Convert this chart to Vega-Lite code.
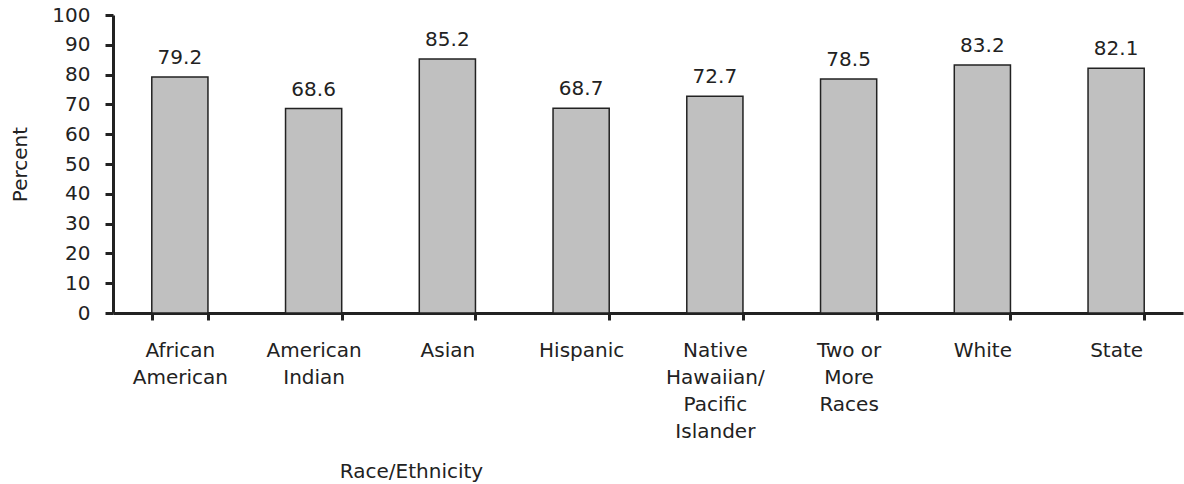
{
  "$schema": "https://vega.github.io/schema/vega-lite/v6.json",
  "width": 1070,
  "height": 298,
  "autosize": {"type": "none"},
  "padding": {"left": 113, "top": 15, "right": 1, "bottom": 171},
  "background": "white",
  "config": {
    "view": {"stroke": null},
    "font": "DejaVu Sans",
    "axis": {"labelFont": "DejaVu Sans", "titleFont": "DejaVu Sans", "labelColor": "#222", "titleColor": "#222", "domainColor": "#222", "tickColor": "#222", "grid": false}
  },
  "data": {
    "values": [
      {"group": "African American", "percent": 79.2},
      {"group": "American Indian", "percent": 68.6},
      {"group": "Asian", "percent": 85.2},
      {"group": "Hispanic", "percent": 68.7},
      {"group": "Native Hawaiian/Pacific Islander", "percent": 72.7},
      {"group": "Two or More Races", "percent": 78.5},
      {"group": "White", "percent": 83.2},
      {"group": "State", "percent": 82.1}
    ]
  },
  "encoding": {
    "x": {
      "field": "group",
      "type": "nominal",
      "sort": null,
      "scale": {"paddingInner": 0.58, "paddingOuter": 0.29},
      "axis": {
        "title": "Race/Ethnicity",
        "titleFontSize": 20,
        "titleFontWeight": "normal",
        "titleX": 298,
        "titleY": 164,
        "titleAlign": "center",
        "titleBaseline": "alphabetic",
        "labelAngle": 0,
        "labelFontSize": 20,
        "labelLineHeight": 27,
        "labelBaseline": "top",
        "labelPadding": 20,
        "labelExpr": "{'African American': ['African', 'American'], 'American Indian': ['American', 'Indian'], 'Asian': 'Asian', 'Hispanic': 'Hispanic', 'Native Hawaiian/Pacific Islander': ['Native', 'Hawaiian/', 'Pacific', 'Islander'], 'Two or More Races': ['Two or', 'More', 'Races'], 'White': 'White', 'State': 'State'}[datum.value]",
        "bandPosition": 0,
        "tickBand": "extent",
        "tickSize": 7,
        "tickWidth": 3,
        "domainWidth": 3,
        "labelOverlap": false,
        "labelBound": false
      }
    },
    "y": {
      "field": "percent",
      "type": "quantitative",
      "scale": {"domain": [0, 100], "nice": false},
      "axis": {
        "title": "Percent",
        "titleFontSize": 20,
        "titleFontWeight": "normal",
        "titleAngle": -90,
        "titleX": -93,
        "titleY": 149,
        "titleAlign": "center",
        "titleBaseline": "middle",
        "values": [0, 10, 20, 30, 40, 50, 60, 70, 80, 90, 100],
        "labelFontSize": 20,
        "labelPadding": 15,
        "tickSize": 8,
        "tickWidth": 3,
        "domainWidth": 3
      }
    }
  },
  "layer": [
    {
      "mark": {"type": "bar", "fill": "#c0c0c0", "stroke": "#222", "strokeWidth": 1.5}
    },
    {
      "mark": {"type": "text", "baseline": "alphabetic", "dy": -13, "fontSize": 20, "color": "#222", "font": "DejaVu Sans"},
      "encoding": {"text": {"field": "percent", "type": "quantitative", "format": ".1f"}}
    }
  ]
}
